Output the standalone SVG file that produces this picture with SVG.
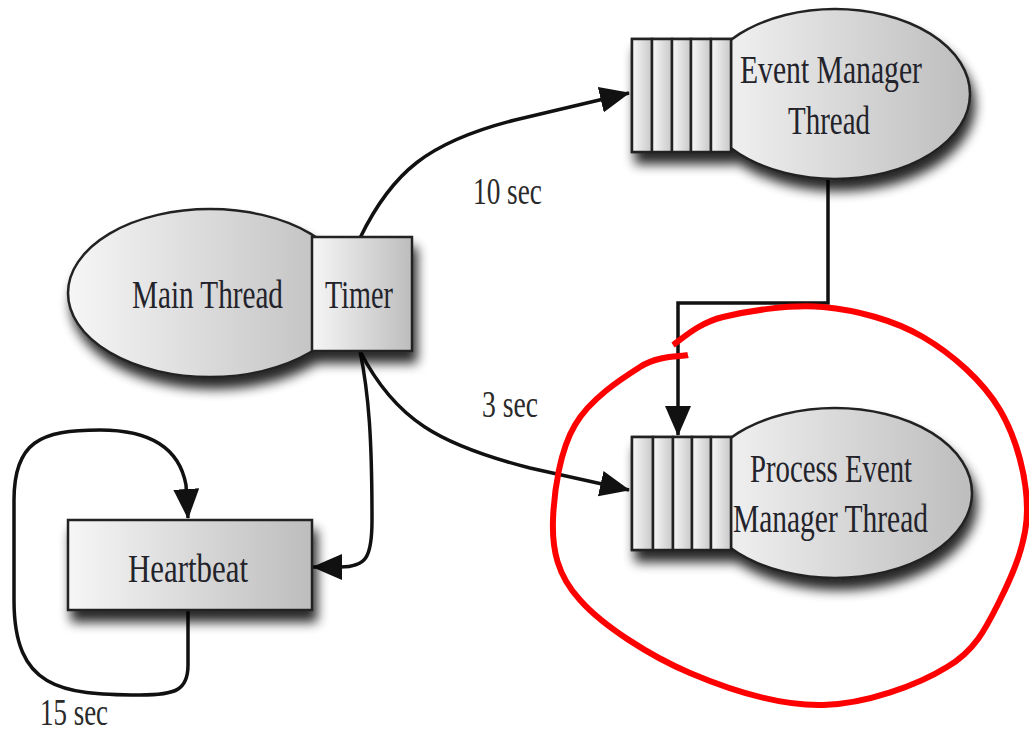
<svg xmlns="http://www.w3.org/2000/svg" width="1029" height="743" viewBox="0 0 1029 743">
<style>
.lbl{font-family:"Liberation Serif","Times New Roman",serif;font-size:40px;fill:#23232b}
.elbl{font-family:"Liberation Serif","Times New Roman",serif;font-size:38px;fill:#2a2a2a}
.shape{stroke:#222;stroke-width:2.5}
.cell{fill:url(#cellg);stroke:#222;stroke-width:2.5}
.edge{fill:none;stroke:#111;stroke-width:3.5}
</style>
<defs>
<linearGradient id="g" x1="0" y1="0" x2="1" y2="0">
<stop offset="0" stop-color="#f6f6f6"/>
<stop offset="1" stop-color="#bdbdbd"/>
</linearGradient>
<linearGradient id="cellg" x1="0" y1="0" x2="1" y2="0">
<stop offset="0" stop-color="#f8f8f8"/>
<stop offset="1" stop-color="#c8c8c8"/>
</linearGradient>
<filter id="sh" x="-20%" y="-20%" width="150%" height="160%">
<feGaussianBlur in="SourceAlpha" stdDeviation="6"/>
<feOffset dx="4" dy="11" result="b"/>
<feComponentTransfer><feFuncA type="linear" slope="0.85"/></feComponentTransfer>
<feMerge><feMergeNode/><feMergeNode in="SourceGraphic"/></feMerge>
</filter>
<marker id="arr" viewBox="0 0 30 26" refX="29" refY="13" markerWidth="30" markerHeight="26" markerUnits="userSpaceOnUse" orient="auto">
<path d="M0,0 L30,13 L0,26 z" fill="#111"/>
</marker>
</defs>
<rect width="1029" height="743" fill="#fff"/>

<g id="connectors">
<path class="edge" d="M360,238 C392,172 428,142 515,120 L629,93" marker-end="url(#arr)"/>
<path class="edge" d="M360,351 C395,420 440,445 530,468 L629,490" marker-end="url(#arr)"/>
<path class="edge" d="M360,351 C369,395 372,440 372,520 C372,558 366,567 340,567 L313,567" marker-end="url(#arr)"/>
<path class="edge" d="M188,610 L188,665 C188,690 176,695 140,695 C60,695 14,688 14,600 L14,500 C14,442 40,430 100,430 C155,430 180,452 186,485 L188,518" marker-end="url(#arr)"/>
<path class="edge" d="M828,178 L828,303 L678,303 L678,435" marker-end="url(#arr)"/>
</g>

<g id="main-thread">
<g filter="url(#sh)">
<ellipse class="shape" cx="210" cy="293" rx="142" ry="84" fill="url(#g)"/>
<rect class="shape" x="312" y="237" width="100" height="114" fill="url(#g)"/>
</g>
<text class="lbl" transform="translate(132,308) scale(0.73,1)" textLength="206.8" lengthAdjust="spacingAndGlyphs">Main Thread</text>
<text class="lbl" transform="translate(325,308) scale(0.73,1)" textLength="93.2" lengthAdjust="spacingAndGlyphs">Timer</text>
</g>

<g id="event-manager">
<g filter="url(#sh)">
<ellipse class="shape" cx="835" cy="94" rx="135" ry="85" fill="url(#g)"/>
<rect class="shape" x="632" y="39" width="99" height="113" fill="url(#g)"/>
</g>
<rect class="cell" x="632" y="39" width="20" height="113"/>
<rect class="cell" x="652" y="39" width="20" height="113"/>
<rect class="cell" x="672" y="39" width="19" height="113"/>
<rect class="cell" x="691" y="39" width="20" height="113"/>
<rect class="cell" x="711" y="39" width="20" height="113"/>
<text class="lbl" transform="translate(740,83) scale(0.73,1)" textLength="249.3" lengthAdjust="spacingAndGlyphs">Event Manager</text>
<text class="lbl" transform="translate(788,134) scale(0.73,1)" textLength="112.3" lengthAdjust="spacingAndGlyphs">Thread</text>
</g>

<g id="heartbeat">
<rect class="shape" x="68" y="520" width="244" height="90" fill="url(#g)" filter="url(#sh)"/>
<text class="lbl" transform="translate(128,582) scale(0.73,1)" textLength="164.4" lengthAdjust="spacingAndGlyphs">Heartbeat</text>
</g>

<g id="process-event-manager">
<g filter="url(#sh)">
<ellipse class="shape" cx="835" cy="493" rx="137" ry="85" fill="url(#g)"/>
<rect class="shape" x="632" y="437" width="99" height="113" fill="url(#g)"/>
</g>
<rect class="cell" x="632" y="437" width="21" height="113"/>
<rect class="cell" x="653" y="437" width="20" height="113"/>
<rect class="cell" x="673" y="437" width="19" height="113"/>
<rect class="cell" x="692" y="437" width="19" height="113"/>
<rect class="cell" x="711" y="437" width="20" height="113"/>
<text class="lbl" transform="translate(750,482) scale(0.73,1)" textLength="221.9" lengthAdjust="spacingAndGlyphs">Process Event</text>
<text class="lbl" transform="translate(733,532) scale(0.73,1)" textLength="267.1" lengthAdjust="spacingAndGlyphs">Manager Thread</text>
</g>

<g id="edge-labels">
<text class="elbl" transform="translate(473,204) scale(0.73,1)" textLength="94.5" lengthAdjust="spacingAndGlyphs">10 sec</text>
<text class="elbl" transform="translate(482,417) scale(0.73,1)" textLength="76.7" lengthAdjust="spacingAndGlyphs">3 sec</text>
<text class="elbl" transform="translate(40,725) scale(0.73,1)" textLength="93.2" lengthAdjust="spacingAndGlyphs">15 sec</text>
</g>

<g id="annotation">
<path d="M673,345 C681,340 698,323 723,317 C748,311 790,304 823,307 C856,310 894,320 923,337 C952,354 983,381 1000,410 C1017,439 1027,478 1027,510 C1027,542 1013,574 1000,600 C987,626 976,650 947,667 C918,685 866,704 823,705 C780,706 730,690 690,673 C650,656 603,626 580,600 C557,575 552,549 553,520 C554,491 560,450 575,425 C590,399 621,379 640,367 C659,355 680,357 688,355" fill="none" stroke="#ff0000" stroke-width="6" stroke-linecap="butt"/>
</g>
</svg>
